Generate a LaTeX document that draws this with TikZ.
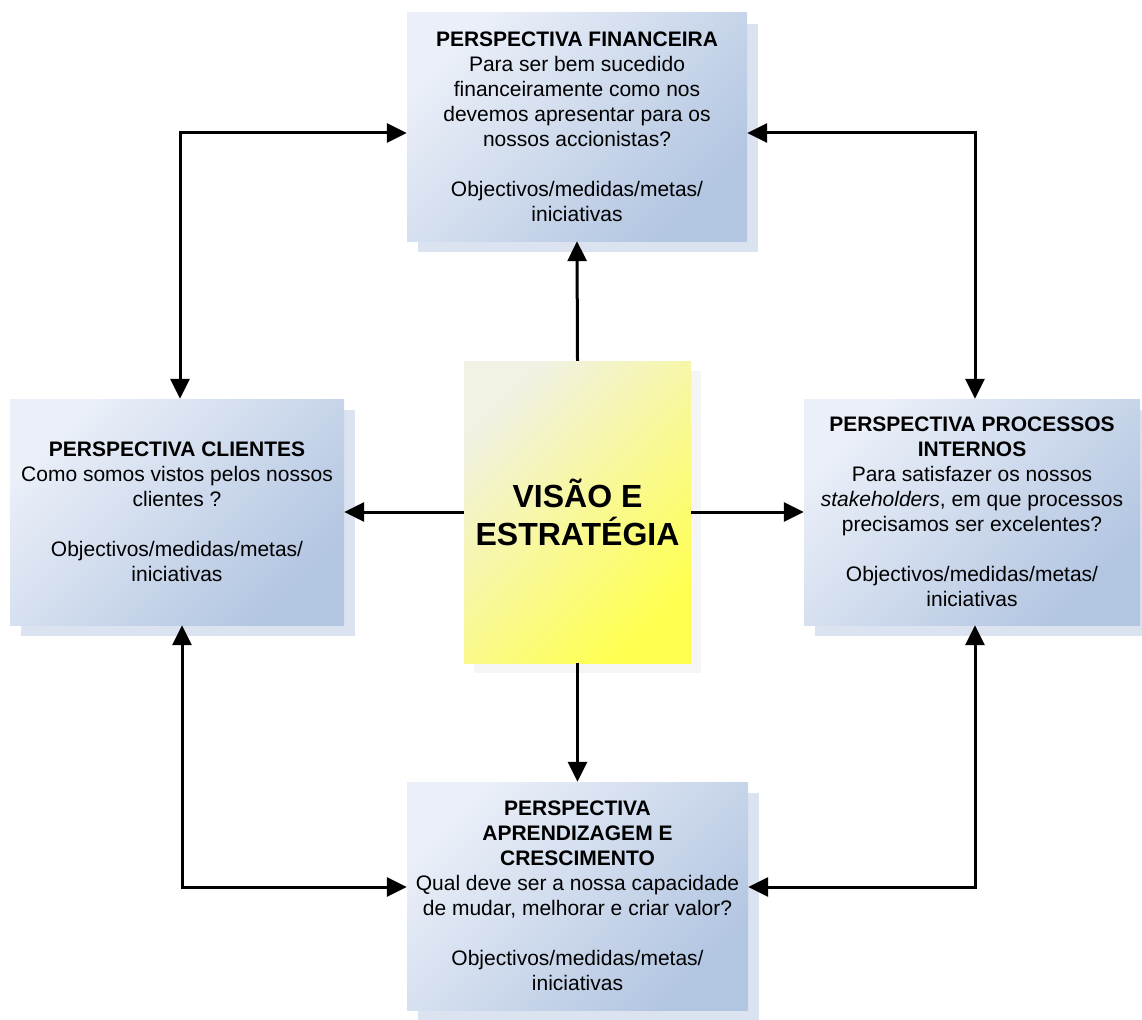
\documentclass[tikz,border=0pt]{standalone}
\usepackage{fontspec}
\setmainfont{Liberation Sans}
\usepackage{tikz}
\usetikzlibrary{arrows.meta,positioning,shadows,calc}
\definecolor{bsclight}{HTML}{EAEFF8}
\definecolor{bscdark}{HTML}{B2C5E1}
\definecolor{bscshadow}{HTML}{DCE3F0}
\definecolor{visionlight}{HTML}{F1F1E4}
\definecolor{visiondark}{HTML}{FFFF50}

\begin{document}
\begin{tikzpicture}[
        x=1pt, y=-1pt,
        >={Triangle[length=20pt, width=19pt]},
        persp/.style={rectangle, inner sep=0pt, align=center,
            top color=bsclight, bottom color=bscdark, shading angle=45,
            drop shadow={shadow xshift=11pt, shadow yshift=-11pt, fill=bscshadow, opacity=1},
            font=\fontsize{21pt}{25pt}\selectfont},
        vision/.style={rectangle, inner sep=0pt, align=center,
            top color=visionlight, bottom color=visiondark, shading angle=45,
            drop shadow={shadow xshift=10pt, shadow yshift=-10pt, fill=black!4, opacity=1},
            minimum width=227pt, minimum height=302pt,
            font=\fontsize{32pt}{38pt}\selectfont\bfseries},
        link/.style={line width=3pt, black},
    ]
    \useasboundingbox (0,0) rectangle (1142,1019);

    % === Vision in the middle ===
    \node[vision] (vis) at (577.5,512) {VISÃO E\\ESTRATÉGIA};

    % === The four perspectives ===
    \node[persp, minimum width=340pt, minimum height=228pt] (fin) at (577,127)
        {\textbf{PERSPECTIVA FINANCEIRA}\\Para ser bem sucedido\\financeiramente como nos\\devemos apresentar para os\\nossos accionistas?\\[25pt]Objectivos/medidas/metas/\\iniciativas};
    \node[persp, minimum width=334pt, minimum height=226pt] (cli) at (177,512)
        {\textbf{PERSPECTIVA CLIENTES}\\Como somos vistos pelos nossos\\clientes ?\\[25pt]Objectivos/medidas/metas/\\iniciativas};
    \node[persp, minimum width=336pt, minimum height=226pt] (proc) at (972,512)
        {\textbf{PERSPECTIVA PROCESSOS}\\\textbf{INTERNOS}\\Para satisfazer os nossos\\\textit{stakeholders}, em que processos\\precisamos ser excelentes?\\[25pt]Objectivos/medidas/metas/\\iniciativas};
    \node[persp, minimum width=341pt, minimum height=228pt] (apr) at (577.5,896)
        {\textbf{PERSPECTIVA}\\\textbf{APRENDIZAGEM E}\\\textbf{CRESCIMENTO}\\Qual deve ser a nossa capacidade\\de mudar, melhorar e criar valor?\\[25pt]Objectivos/medidas/metas/\\iniciativas};

    % === Vision to perspectives ===
    \draw[link, ->] (vis.north) -- (fin.south);
    \draw[link, ->] (vis.south) -- (apr.north);
    \draw[link, ->] (vis.west) -- (cli.east);
    \draw[link, ->] (vis.east) -- (proc.west);

    % === Outer loop ===
    \draw[link, <->] ([xshift=3pt]cli.north) |- ([yshift=-6pt]fin.west);
    \draw[link, <->] ([yshift=-6pt]fin.east) -| ([xshift=3pt]proc.north);
    \draw[link, <->] ([xshift=5pt]cli.south) |- ([yshift=9pt]apr.west);
    \draw[link, <->] ([xshift=3pt]proc.south) |- ([yshift=9pt]apr.east);

\end{tikzpicture}
\end{document}
